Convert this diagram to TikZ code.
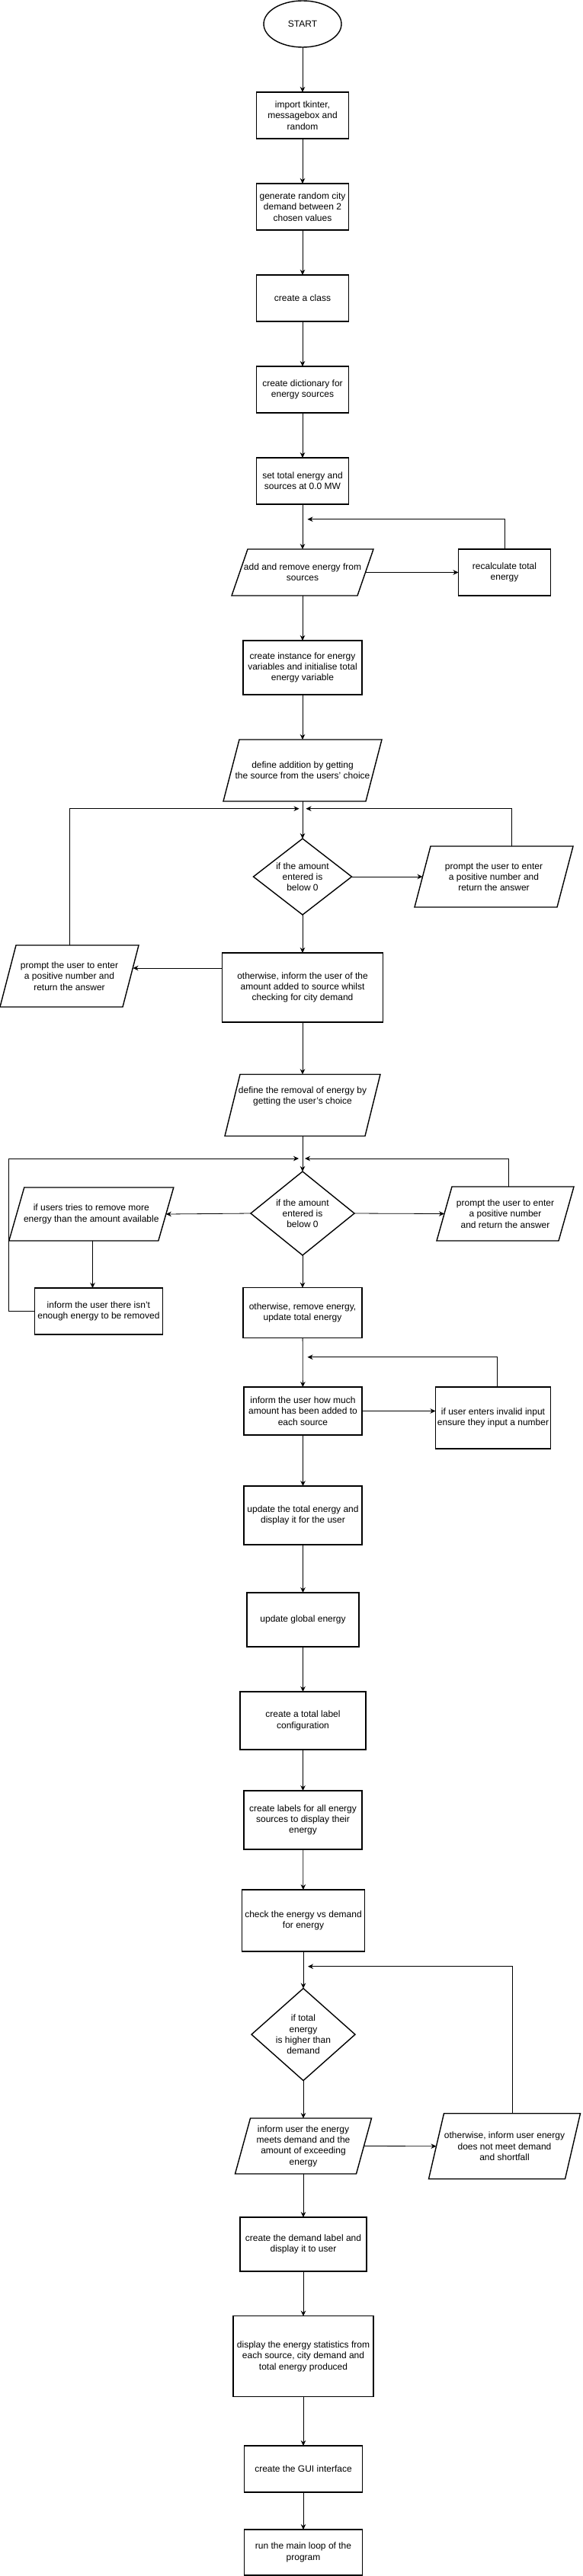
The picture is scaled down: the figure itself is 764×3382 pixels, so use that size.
\documentclass[tikz,border=0pt]{standalone}
\usepackage{fontspec}
\setmainfont{Liberation Sans}
\usetikzlibrary{shapes.geometric,arrows.meta,calc}
\newcommand\paral[2]{\draw[shapeline] ($(#1.north west)+(#2,0)$) -- (#1.north east) -- ($(#1.south east)-(#2,0)$) -- (#1.south west) -- cycle;}
\begin{document}
\begin{tikzpicture}[x=1pt,y=-1pt,
  every node/.style={font=\fontsize{12}{14.3}\selectfont, align=center, inner sep=0pt, outer sep=0pt},
  shapeline/.style={draw=black, line width=1.4pt, line join=miter},
  box/.style={shapeline, rectangle},
  para/.style={rectangle, draw=none},
  term/.style={shapeline, ellipse},
  decision/.style={shapeline, diamond},
  arr/.style={-{Stealth[length=7pt,width=6.5pt]}, line width=0.8pt}]
\useasboundingbox[fill=white] (0,0) rectangle (764,3382);

% nodes
\node[term, minimum width=102pt, minimum height=61pt] (start) at (397,31.5) {START};
\node[box, minimum width=121pt, minimum height=61pt] (imp) at (397,151.5) {import tkinter,\\messagebox and\\random};
\node[box, minimum width=121pt, minimum height=61pt] (gen) at (397,271.5) {generate random city\\demand between 2\\chosen values};
\node[box, minimum width=121pt, minimum height=61pt] (cls) at (397,391.5) {create a class};
\node[box, minimum width=121pt, minimum height=61pt] (dict) at (397,511.5) {create dictionary for\\energy sources};
\node[box, minimum width=121pt, minimum height=61pt] (settot) at (397,631.5) {set total energy and\\sources at 0.0 MW};
\node[para, minimum width=186pt, minimum height=61pt] (addrem) at (397,751.5) {add and remove energy from\\sources};
\node[box, minimum width=121pt, minimum height=61pt] (recalc) at (662,751.5) {recalculate total\\energy};
\node[box, minimum width=156pt, minimum height=71pt] (inst) at (397,876.5) {create instance for energy\\variables and initialise total\\energy variable};
\node[para, minimum width=208pt, minimum height=81pt] (defadd) at (397,1011.5) {define addition by getting\\the source from the users' choice};
\node[decision, aspect=1.3, minimum width=129pt, minimum height=100pt] (dia1) at (397,1151) {if the amount\\entered is\\below 0};
\node[para, minimum width=208pt, minimum height=80pt] (promptRa) at (648,1151) {prompt the user to enter\\a positive number and\\return the answer};
\node[para, minimum width=182pt, minimum height=81pt] (promptLa) at (91,1281.5) {prompt the user to enter\\a positive number and\\return the answer};
\node[box, minimum width=211pt, minimum height=91pt] (oth1) at (397,1296.5) {otherwise, inform the user of the\\amount added to source whilst\\checking for city demand};
\node[para, minimum width=204pt, minimum height=81pt] (defrem) at (397,1451) {define the removal of energy by\\getting the user's choice\\[12pt]\mbox{}};
\node[decision, aspect=1.25, minimum width=136pt, minimum height=110pt] (dia2) at (397,1593) {if the amount\\entered is\\below 0};
\node[para, minimum width=216pt, minimum height=70pt] (ifusers) at (119.8,1594) {if users tries to remove more\\energy than the amount available};
\node[para, minimum width=180pt, minimum height=71pt] (promptRb) at (663,1593.5) {prompt the user to enter\\a positive number\\and return the answer};
\node[box, minimum width=168pt, minimum height=61pt] (notenough) at (129.4,1721.5) {inform the user there isn't\\enough energy to be removed};
\node[box, minimum width=156pt, minimum height=66pt] (oth2) at (397,1723.7) {otherwise, remove energy,\\update total energy};
\node[box, minimum width=155pt, minimum height=63pt] (howmuch) at (397.5,1852.5) {inform the user how much\\amount has been added to\\each source};
\node[box, minimum width=151pt, minimum height=81pt] (invalid) at (647,1861.5) {if user enters invalid input\\ensure they input a number};
\node[box, minimum width=155pt, minimum height=77pt] (updtot) at (397.5,1989.5) {update the total energy and\\display it for the user};
\node[box, minimum width=147pt, minimum height=71pt] (glob) at (397.5,2126.5) {update global energy};
\node[box, minimum width=165pt, minimum height=76pt] (totlab) at (397.5,2259) {create a total label\\configuration};
\node[box, minimum width=155pt, minimum height=77pt] (labels) at (397.5,2389.5) {create labels for all energy\\sources to display their\\energy};
\node[box, minimum width=161pt, minimum height=81pt] (check) at (398,2521.5) {check the energy vs demand\\for energy};
\node[decision, aspect=1.13, minimum width=136pt, minimum height=121pt] (dia3) at (398,2671) {if total\\energy\\is higher than\\demand};
\node[para, minimum width=179pt, minimum height=73pt] (meets) at (398,2817.5) {inform user the energy\\meets demand and the\\amount of exceeding\\energy};
\node[para, minimum width=199pt, minimum height=86pt] (short) at (662,2817.7) {otherwise, inform user energy\\does not meet demand\\and shortfall};
\node[box, minimum width=166pt, minimum height=71pt] (demand) at (398,2946.5) {create the demand label and\\display it to user};
\node[box, minimum width=184pt, minimum height=106pt] (stats) at (398,3093.7) {display the energy statistics from\\each source, city demand and\\total energy produced};
\node[box, minimum width=155pt, minimum height=61pt] (gui) at (398,3241.5) {create the GUI interface};
\node[box, minimum width=155pt, minimum height=60pt] (mainloop) at (398,3351) {run the main loop of the\\program};

% parallelogram outlines
\paral{addrem}{21}
\paral{defadd}{21}
\paral{promptRa}{21}
\paral{promptLa}{21}
\paral{defrem}{20}
\paral{ifusers}{20}
\paral{promptRb}{20}
\paral{meets}{20}
\paral{short}{20}

% free ends of the loop-back connectors
\coordinate (fba) at (403.5,681.7);
\coordinate (jal) at (392.5,1061.7);
\coordinate (jar) at (401.5,1061.7);
\coordinate (jbl) at (392,1521);
\coordinate (jbr) at (400,1521);
\coordinate (fbb) at (403.5,1781.7);
\coordinate (fbc) at (404,2581.7);

% connectors
\draw[arr] (start) -- (imp);
\draw[arr] (imp) -- (gen);
\draw[arr] (gen) -- (cls);
\draw[arr] (cls) -- (dict);
\draw[arr] (dict) -- (settot);
\draw[arr] (settot) -- (addrem);
\draw[arr] ([xshift=-10.5pt]addrem.east) -- (recalc.west);
\draw[arr] (recalc.north) |- (fba);
\draw[arr] (addrem) -- (inst);
\draw[arr] (inst) -- (defadd);
\draw[arr] (defadd) -- (dia1);
\draw[arr] (dia1.east) -- ([xshift=10.5pt]promptRa.west);
\draw[arr] ([xshift=23.7pt]promptRa.north) |- (jar);
\draw[arr] (promptLa.north) |- (jal);
\draw[arr] (dia1) -- (oth1);
\draw[arr] ([yshift=25.5pt]oth1.west) -- ++(-117,0);
\draw[arr] (oth1) -- (defrem);
\draw[arr] (defrem) -- (dia2);
\draw[arr] (dia2.west) -- ([xshift=-10pt]ifusers.east);
\draw[arr] (dia2.east) -- ([xshift=10pt]promptRb.west);
\draw[arr] ([xshift=4.6pt]promptRb.north) |- (jbr);
\draw[arr] ([xshift=1.7pt]ifusers.south) -- ([xshift=1.7pt]ifusers.south |- notenough.north);
\draw[arr] (notenough.west) -- ++(-33.7,0) |- (jbl);
\draw[arr] (dia2) -- (oth2);
\draw[arr] (oth2) -- (howmuch);
\draw[arr] (howmuch.east) -- (howmuch.east -| invalid.west);
\draw[arr] ([xshift=5pt]invalid.north) |- (fbb);
\draw[arr] (howmuch) -- (updtot);
\draw[arr] (updtot) -- (glob);
\draw[arr] (glob) -- (totlab);
\draw[arr] (totlab) -- (labels);
\draw[arr] (labels) -- (check);
\draw[arr] (check) -- (dia3);
\draw[arr] (dia3) -- (meets);
\draw[arr] ([xshift=-10pt]meets.east) -- ([xshift=10pt]short.west);
\draw[arr] ([xshift=10.5pt]short.north) |- (fbc);
\draw[arr] (meets) -- (demand);
\draw[arr] (demand) -- (stats);
\draw[arr] (stats) -- (gui);
\draw[arr] (gui) -- (mainloop);
\end{tikzpicture}
\end{document}
